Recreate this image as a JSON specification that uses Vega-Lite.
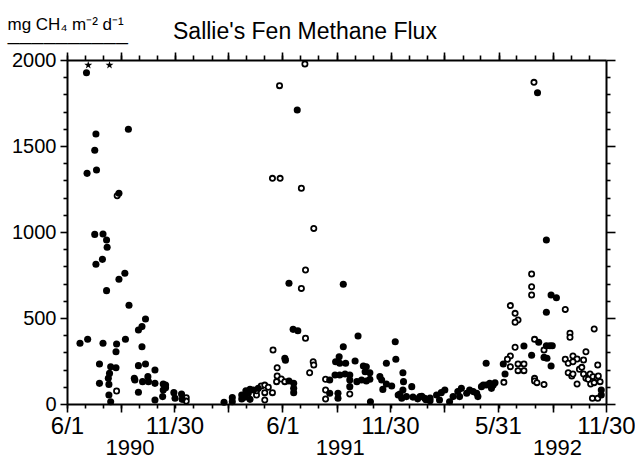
{
  "$schema": "https://vega.github.io/schema/vega-lite/v6.json",
  "width": 539,
  "height": 344,
  "autosize": {"type": "none"},
  "padding": {"left": 67, "top": 60, "right": 29, "bottom": 55},
  "background": "white",
  "title": {"text": "Sallie's Fen Methane Flux", "anchor": "start", "frame": "group", "dx": 106, "offset": -47, "font": "Liberation Sans", "fontSize": 23, "fontWeight": "normal", "color": "black", "baseline": "alphabetic"},
  "config": {
    "view": {"stroke": null},
    "axis": {"domainColor": "black", "tickColor": "black", "labelColor": "black", "titleColor": "black", "labelFont": "Liberation Sans", "labelFontSize": 20, "grid": false, "domainWidth": 2, "tickWidth": 1.6, "labelOverlap": false, "labelFlush": false, "labelBound": false, "title": null}
  },
  "data": {"values": [
    {"date": "1990-07-04", "flux": 1926, "kind": "filled"},
    {"date": "1990-07-07", "flux": 1970, "kind": "offscale"},
    {"date": "1990-08-12", "flux": 1970, "kind": "offscale"},
    {"date": "1990-07-20", "flux": 1570, "kind": "filled"},
    {"date": "1990-07-18", "flux": 1475, "kind": "filled"},
    {"date": "1990-07-05", "flux": 1341, "kind": "filled"},
    {"date": "1990-07-21", "flux": 1360, "kind": "filled"},
    {"date": "1990-09-13", "flux": 1597, "kind": "filled"},
    {"date": "1990-08-25", "flux": 1211, "kind": "open"},
    {"date": "1990-08-28", "flux": 1225, "kind": "filled"},
    {"date": "1990-07-18", "flux": 986, "kind": "filled"},
    {"date": "1990-08-01", "flux": 988, "kind": "filled"},
    {"date": "1990-08-07", "flux": 953, "kind": "filled"},
    {"date": "1990-08-08", "flux": 911, "kind": "filled"},
    {"date": "1990-07-20", "flux": 812, "kind": "filled"},
    {"date": "1990-07-31", "flux": 841, "kind": "filled"},
    {"date": "1990-08-28", "flux": 725, "kind": "filled"},
    {"date": "1990-09-07", "flux": 760, "kind": "filled"},
    {"date": "1990-08-07", "flux": 659, "kind": "filled"},
    {"date": "1990-09-14", "flux": 574, "kind": "filled"},
    {"date": "1990-10-12", "flux": 494, "kind": "filled"},
    {"date": "1990-10-06", "flux": 450, "kind": "filled"},
    {"date": "1990-09-30", "flux": 430, "kind": "filled"},
    {"date": "1990-06-23", "flux": 353, "kind": "filled"},
    {"date": "1990-07-06", "flux": 376, "kind": "filled"},
    {"date": "1990-08-01", "flux": 353, "kind": "filled"},
    {"date": "1990-08-24", "flux": 349, "kind": "filled"},
    {"date": "1990-08-23", "flux": 304, "kind": "filled"},
    {"date": "1990-09-08", "flux": 376, "kind": "filled"},
    {"date": "1990-10-06", "flux": 333, "kind": "filled"},
    {"date": "1990-07-26", "flux": 233, "kind": "filled"},
    {"date": "1990-08-14", "flux": 217, "kind": "filled"},
    {"date": "1990-08-23", "flux": 211, "kind": "filled"},
    {"date": "1990-08-12", "flux": 178, "kind": "filled"},
    {"date": "1990-08-10", "flux": 149, "kind": "filled"},
    {"date": "1990-07-26", "flux": 120, "kind": "filled"},
    {"date": "1990-08-11", "flux": 114, "kind": "filled"},
    {"date": "1990-08-24", "flux": 76, "kind": "open"},
    {"date": "1990-08-11", "flux": 52, "kind": "filled"},
    {"date": "1990-08-14", "flux": 13, "kind": "filled"},
    {"date": "1990-09-30", "flux": 223, "kind": "filled"},
    {"date": "1990-10-12", "flux": 233, "kind": "filled"},
    {"date": "1990-10-28", "flux": 198, "kind": "filled"},
    {"date": "1990-09-23", "flux": 149, "kind": "filled"},
    {"date": "1990-09-24", "flux": 140, "kind": "filled"},
    {"date": "1990-10-07", "flux": 130, "kind": "filled"},
    {"date": "1990-10-16", "flux": 159, "kind": "filled"},
    {"date": "1990-10-17", "flux": 130, "kind": "filled"},
    {"date": "1990-10-28", "flux": 120, "kind": "filled"},
    {"date": "1990-09-30", "flux": 68, "kind": "filled"},
    {"date": "1990-10-28", "flux": 23, "kind": "filled"},
    {"date": "1990-11-11", "flux": 116, "kind": "filled"},
    {"date": "1990-11-15", "flux": 110, "kind": "filled"},
    {"date": "1990-11-11", "flux": 81, "kind": "filled"},
    {"date": "1990-11-15", "flux": 95, "kind": "filled"},
    {"date": "1990-11-10", "flux": 43, "kind": "filled"},
    {"date": "1990-11-29", "flux": 66, "kind": "filled"},
    {"date": "1990-12-01", "flux": 33, "kind": "filled"},
    {"date": "1990-12-12", "flux": 58, "kind": "filled"},
    {"date": "1990-12-13", "flux": 27, "kind": "filled"},
    {"date": "1990-12-20", "flux": 37, "kind": "open"},
    {"date": "1990-12-20", "flux": 17, "kind": "open"},
    {"date": "1991-02-22", "flux": 10, "kind": "filled"},
    {"date": "1991-03-08", "flux": 37, "kind": "filled"},
    {"date": "1991-03-08", "flux": 13, "kind": "filled"},
    {"date": "1991-03-24", "flux": 29, "kind": "filled"},
    {"date": "1991-03-24", "flux": 52, "kind": "filled"},
    {"date": "1991-04-04", "flux": 62, "kind": "filled"},
    {"date": "1991-04-07", "flux": 27, "kind": "filled"},
    {"date": "1991-04-18", "flux": 52, "kind": "open"},
    {"date": "1991-04-21", "flux": 91, "kind": "filled"},
    {"date": "1991-03-31", "flux": 77, "kind": "filled"},
    {"date": "1991-04-07", "flux": 85, "kind": "filled"},
    {"date": "1991-04-13", "flux": 81, "kind": "filled"},
    {"date": "1991-03-29", "flux": 39, "kind": "filled"},
    {"date": "1991-04-26", "flux": 105, "kind": "open"},
    {"date": "1991-05-02", "flux": 110, "kind": "open"},
    {"date": "1991-05-08", "flux": 97, "kind": "open"},
    {"date": "1991-04-18", "flux": 77, "kind": "open"},
    {"date": "1991-05-02", "flux": 66, "kind": "open"},
    {"date": "1991-05-15", "flux": 66, "kind": "open"},
    {"date": "1991-05-02", "flux": 23, "kind": "open"},
    {"date": "1991-05-16", "flux": 314, "kind": "open"},
    {"date": "1991-05-23", "flux": 211, "kind": "open"},
    {"date": "1991-05-23", "flux": 163, "kind": "open"},
    {"date": "1991-05-30", "flux": 145, "kind": "open"},
    {"date": "1991-06-05", "flux": 130, "kind": "open"},
    {"date": "1991-05-22", "flux": 130, "kind": "open"},
    {"date": "1991-06-05", "flux": 266, "kind": "filled"},
    {"date": "1991-06-06", "flux": 255, "kind": "filled"},
    {"date": "1991-06-12", "flux": 134, "kind": "filled"},
    {"date": "1991-06-20", "flux": 120, "kind": "filled"},
    {"date": "1991-06-20", "flux": 91, "kind": "filled"},
    {"date": "1991-06-20", "flux": 66, "kind": "filled"},
    {"date": "1991-06-19", "flux": 434, "kind": "filled"},
    {"date": "1991-06-27", "flux": 426, "kind": "filled"},
    {"date": "1991-07-10", "flux": 382, "kind": "open"},
    {"date": "1991-07-23", "flux": 246, "kind": "open"},
    {"date": "1991-07-24", "flux": 227, "kind": "open"},
    {"date": "1991-07-17", "flux": 182, "kind": "open"},
    {"date": "1991-08-13", "flux": 144, "kind": "open"},
    {"date": "1991-08-13", "flux": 81, "kind": "open"},
    {"date": "1991-08-13", "flux": 29, "kind": "open"},
    {"date": "1991-08-20", "flux": 62, "kind": "filled"},
    {"date": "1991-07-24", "flux": 1021, "kind": "open"},
    {"date": "1991-07-10", "flux": 779, "kind": "open"},
    {"date": "1991-07-03", "flux": 672, "kind": "open"},
    {"date": "1991-06-12", "flux": 702, "kind": "filled"},
    {"date": "1991-09-12", "flux": 696, "kind": "filled"},
    {"date": "1991-07-09", "flux": 1977, "kind": "open"},
    {"date": "1991-05-27", "flux": 1851, "kind": "open"},
    {"date": "1991-06-26", "flux": 1709, "kind": "filled"},
    {"date": "1991-05-15", "flux": 1312, "kind": "open"},
    {"date": "1991-05-28", "flux": 1312, "kind": "open"},
    {"date": "1991-07-03", "flux": 1254, "kind": "open"},
    {"date": "1991-09-12", "flux": 333, "kind": "filled"},
    {"date": "1991-10-07", "flux": 395, "kind": "filled"},
    {"date": "1991-09-05", "flux": 275, "kind": "filled"},
    {"date": "1991-08-30", "flux": 246, "kind": "filled"},
    {"date": "1991-09-06", "flux": 237, "kind": "filled"},
    {"date": "1991-09-16", "flux": 237, "kind": "filled"},
    {"date": "1991-10-02", "flux": 250, "kind": "filled"},
    {"date": "1991-08-29", "flux": 169, "kind": "filled"},
    {"date": "1991-09-06", "flux": 169, "kind": "filled"},
    {"date": "1991-09-15", "flux": 174, "kind": "filled"},
    {"date": "1991-09-23", "flux": 169, "kind": "filled"},
    {"date": "1991-09-23", "flux": 140, "kind": "filled"},
    {"date": "1991-09-23", "flux": 101, "kind": "filled"},
    {"date": "1991-09-23", "flux": 58, "kind": "open"},
    {"date": "1991-08-20", "flux": 140, "kind": "filled"},
    {"date": "1991-09-03", "flux": 62, "kind": "filled"},
    {"date": "1991-09-03", "flux": 33, "kind": "filled"},
    {"date": "1991-10-16", "flux": 221, "kind": "filled"},
    {"date": "1991-10-21", "flux": 217, "kind": "filled"},
    {"date": "1991-10-19", "flux": 188, "kind": "filled"},
    {"date": "1991-10-27", "flux": 182, "kind": "filled"},
    {"date": "1991-10-27", "flux": 144, "kind": "filled"},
    {"date": "1991-10-05", "flux": 130, "kind": "filled"},
    {"date": "1991-10-13", "flux": 140, "kind": "filled"},
    {"date": "1991-10-21", "flux": 134, "kind": "filled"},
    {"date": "1991-10-28", "flux": 13, "kind": "filled"},
    {"date": "1991-11-24", "flux": 237, "kind": "filled"},
    {"date": "1991-12-09", "flux": 362, "kind": "filled"},
    {"date": "1991-12-10", "flux": 260, "kind": "filled"},
    {"date": "1991-11-13", "flux": 159, "kind": "filled"},
    {"date": "1991-11-16", "flux": 140, "kind": "filled"},
    {"date": "1991-11-24", "flux": 116, "kind": "filled"},
    {"date": "1991-12-03", "flux": 105, "kind": "filled"},
    {"date": "1991-11-18", "flux": 85, "kind": "filled"},
    {"date": "1991-12-22", "flux": 182, "kind": "filled"},
    {"date": "1991-12-23", "flux": 130, "kind": "filled"},
    {"date": "1992-01-06", "flux": 101, "kind": "filled"},
    {"date": "1991-12-22", "flux": 81, "kind": "filled"},
    {"date": "1991-12-17", "flux": 58, "kind": "filled"},
    {"date": "1991-12-14", "flux": 52, "kind": "filled"},
    {"date": "1991-12-20", "flux": 33, "kind": "filled"},
    {"date": "1991-12-28", "flux": 43, "kind": "filled"},
    {"date": "1992-01-08", "flux": 40, "kind": "filled"},
    {"date": "1992-01-16", "flux": 30, "kind": "filled"},
    {"date": "1992-01-23", "flux": 45, "kind": "filled"},
    {"date": "1992-01-30", "flux": 25, "kind": "filled"},
    {"date": "1992-02-06", "flux": 35, "kind": "filled"},
    {"date": "1992-01-20", "flux": 43, "kind": "filled"},
    {"date": "1992-01-28", "flux": 33, "kind": "filled"},
    {"date": "1992-02-06", "flux": 19, "kind": "filled"},
    {"date": "1992-02-17", "flux": 52, "kind": "filled"},
    {"date": "1992-02-25", "flux": 66, "kind": "filled"},
    {"date": "1992-03-02", "flux": 81, "kind": "filled"},
    {"date": "1992-02-22", "flux": 23, "kind": "filled"},
    {"date": "1992-03-10", "flux": 13, "kind": "filled"},
    {"date": "1992-03-16", "flux": 43, "kind": "filled"},
    {"date": "1992-03-24", "flux": 72, "kind": "filled"},
    {"date": "1992-03-30", "flux": 91, "kind": "filled"},
    {"date": "1992-03-27", "flux": 43, "kind": "filled"},
    {"date": "1992-04-08", "flux": 62, "kind": "filled"},
    {"date": "1992-04-13", "flux": 81, "kind": "filled"},
    {"date": "1992-04-19", "flux": 72, "kind": "filled"},
    {"date": "1992-04-25", "flux": 62, "kind": "filled"},
    {"date": "1992-04-27", "flux": 43, "kind": "filled"},
    {"date": "1992-05-03", "flux": 101, "kind": "filled"},
    {"date": "1992-05-06", "flux": 110, "kind": "filled"},
    {"date": "1992-05-11", "flux": 110, "kind": "filled"},
    {"date": "1992-05-17", "flux": 120, "kind": "filled"},
    {"date": "1992-05-20", "flux": 91, "kind": "filled"},
    {"date": "1992-05-23", "flux": 110, "kind": "filled"},
    {"date": "1992-05-26", "flux": 124, "kind": "filled"},
    {"date": "1992-05-11", "flux": 237, "kind": "filled"},
    {"date": "1992-06-09", "flux": 233, "kind": "filled"},
    {"date": "1992-06-12", "flux": 174, "kind": "filled"},
    {"date": "1992-06-10", "flux": 126, "kind": "open"},
    {"date": "1992-06-21", "flux": 279, "kind": "open"},
    {"date": "1992-06-16", "flux": 260, "kind": "open"},
    {"date": "1992-06-21", "flux": 217, "kind": "open"},
    {"date": "1992-06-21", "flux": 572, "kind": "open"},
    {"date": "1992-06-29", "flux": 527, "kind": "open"},
    {"date": "1992-07-04", "flux": 488, "kind": "open"},
    {"date": "1992-06-29", "flux": 475, "kind": "open"},
    {"date": "1992-06-29", "flux": 330, "kind": "open"},
    {"date": "1992-07-04", "flux": 233, "kind": "open"},
    {"date": "1992-07-14", "flux": 233, "kind": "open"},
    {"date": "1992-07-04", "flux": 194, "kind": "open"},
    {"date": "1992-07-14", "flux": 194, "kind": "open"},
    {"date": "1992-07-14", "flux": 337, "kind": "filled"},
    {"date": "1992-07-27", "flux": 283, "kind": "filled"},
    {"date": "1992-07-27", "flux": 756, "kind": "open"},
    {"date": "1992-07-27", "flux": 682, "kind": "open"},
    {"date": "1992-07-27", "flux": 634, "kind": "open"},
    {"date": "1992-07-31", "flux": 1870, "kind": "open"},
    {"date": "1992-08-06", "flux": 1810, "kind": "filled"},
    {"date": "1992-08-01", "flux": 376, "kind": "open"},
    {"date": "1992-08-08", "flux": 359, "kind": "filled"},
    {"date": "1992-08-21", "flux": 339, "kind": "filled"},
    {"date": "1992-08-27", "flux": 339, "kind": "filled"},
    {"date": "1992-08-31", "flux": 339, "kind": "filled"},
    {"date": "1992-08-17", "flux": 314, "kind": "open"},
    {"date": "1992-08-17", "flux": 271, "kind": "filled"},
    {"date": "1992-08-22", "flux": 266, "kind": "filled"},
    {"date": "1992-08-29", "flux": 221, "kind": "filled"},
    {"date": "1992-08-29", "flux": 634, "kind": "filled"},
    {"date": "1992-09-07", "flux": 618, "kind": "filled"},
    {"date": "1992-08-21", "flux": 533, "kind": "filled"},
    {"date": "1992-08-21", "flux": 953, "kind": "filled"},
    {"date": "1992-09-22", "flux": 550, "kind": "open"},
    {"date": "1992-09-30", "flux": 411, "kind": "open"},
    {"date": "1992-09-30", "flux": 388, "kind": "open"},
    {"date": "1992-08-01", "flux": 149, "kind": "open"},
    {"date": "1992-08-01", "flux": 134, "kind": "open"},
    {"date": "1992-08-05", "flux": 124, "kind": "open"},
    {"date": "1992-08-17", "flux": 114, "kind": "open"},
    {"date": "1992-09-22", "flux": 260, "kind": "open"},
    {"date": "1992-09-27", "flux": 237, "kind": "open"},
    {"date": "1992-10-05", "flux": 279, "kind": "open"},
    {"date": "1992-10-12", "flux": 262, "kind": "open"},
    {"date": "1992-10-05", "flux": 246, "kind": "open"},
    {"date": "1992-10-27", "flux": 304, "kind": "open"},
    {"date": "1992-10-23", "flux": 256, "kind": "open"},
    {"date": "1992-11-16", "flux": 227, "kind": "open"},
    {"date": "1992-09-27", "flux": 182, "kind": "open"},
    {"date": "1992-10-03", "flux": 163, "kind": "open"},
    {"date": "1992-10-05", "flux": 174, "kind": "open"},
    {"date": "1992-10-12", "flux": 116, "kind": "open"},
    {"date": "1992-10-16", "flux": 202, "kind": "open"},
    {"date": "1992-10-20", "flux": 213, "kind": "open"},
    {"date": "1992-10-23", "flux": 174, "kind": "open"},
    {"date": "1992-10-27", "flux": 149, "kind": "open"},
    {"date": "1992-10-31", "flux": 144, "kind": "open"},
    {"date": "1992-11-03", "flux": 174, "kind": "open"},
    {"date": "1992-11-04", "flux": 116, "kind": "open"},
    {"date": "1992-11-08", "flux": 159, "kind": "open"},
    {"date": "1992-11-10", "flux": 124, "kind": "open"},
    {"date": "1992-11-15", "flux": 153, "kind": "open"},
    {"date": "1992-11-17", "flux": 163, "kind": "open"},
    {"date": "1992-11-20", "flux": 130, "kind": "open"},
    {"date": "1992-11-10", "flux": 436, "kind": "open"},
    {"date": "1992-11-07", "flux": 33, "kind": "open"},
    {"date": "1992-11-16", "flux": 33, "kind": "open"},
    {"date": "1992-11-22", "flux": 81, "kind": "filled"},
    {"date": "1992-11-22", "flux": 52, "kind": "filled"}
  ]},
  "resolve": {"axis": {"x": "independent", "y": "independent"}},
  "layer": [
    {
      "transform": [{"filter": "datum.kind === 'open'"}],
      "mark": {"type": "point", "shape": "circle", "filled": false, "fill": "white", "stroke": "black", "strokeWidth": 1.8, "size": 27, "opacity": 1, "fillOpacity": 1},
      "encoding": {
        "x": {"field": "date", "type": "temporal", "scale": {"type": "utc", "domain": [{"year": 1990, "month": 6, "date": 1, "utc": true}, {"year": 1992, "month": 11, "date": 30, "utc": true}]},
              "axis": {"orient": "bottom", "tickCount": {"interval": "month", "step": 1}, "tickSize": 4, "labels": false, "domain": false}},
        "y": {"field": "flux", "type": "quantitative", "scale": {"domain": [0, 2000], "nice": false},
              "axis": {"orient": "left", "values": [100, 200, 300, 400, 600, 700, 800, 900, 1100, 1200, 1300, 1400, 1600, 1700, 1800, 1900], "tickSize": 4, "labels": false, "domain": false}}
      }
    },
    {
      "transform": [{"filter": "datum.kind === 'filled'"}],
      "mark": {"type": "circle", "color": "black", "size": 50, "opacity": 1},
      "encoding": {
        "x": {"field": "date", "type": "temporal", "scale": {"type": "utc", "domain": [{"year": 1990, "month": 6, "date": 1, "utc": true}, {"year": 1992, "month": 11, "date": 30, "utc": true}]},
              "axis": {"orient": "bottom", "values": [
                {"year": 1990, "month": 6, "date": 1, "utc": true}, {"year": 1990, "month": 9, "date": 1, "utc": true}, {"year": 1990, "month": 11, "date": 30, "utc": true},
                {"year": 1991, "month": 3, "date": 1, "utc": true}, {"year": 1991, "month": 6, "date": 1, "utc": true}, {"year": 1991, "month": 9, "date": 1, "utc": true}, {"year": 1991, "month": 11, "date": 30, "utc": true},
                {"year": 1992, "month": 3, "date": 1, "utc": true}, {"year": 1992, "month": 5, "date": 31, "utc": true}, {"year": 1992, "month": 9, "date": 1, "utc": true}, {"year": 1992, "month": 11, "date": 30, "utc": true}],
                "labelExpr": "indexof(['6/1','11/30','5/31'], utcFormat(datum.value, '%-m/%-d')) >= 0 ? utcFormat(datum.value, '%-m/%-d') : ''",
                "tickSize": 8, "labelPadding": 2, "labelAngle": 0, "labelAlign": "center", "labelFontSize": 24}},
        "y": {"field": "flux", "type": "quantitative", "scale": {"domain": [0, 2000], "nice": false},
              "axis": {"orient": "left", "values": [0, 500, 1000, 1500, 2000], "tickSize": 7, "labelPadding": 4, "format": "d",
                "title": ["mg CH₄  m⁻² d⁻¹", "──────────"], "titleAngle": 0, "titleAlign": "left", "titleBaseline": "alphabetic", "titleX": -60, "titleY": -31, "titleFont": "Liberation Sans", "titleFontSize": 17, "titleFontWeight": "normal", "titleLineHeight": 19}}
      }
    },
    {
      "transform": [{"filter": "datum.kind === 'offscale'"}],
      "mark": {"type": "point", "shape": "M0,-1L0.225,-0.31L0.951,-0.309L0.363,0.118L0.588,0.809L0,0.382L-0.588,0.809L-0.363,0.118L-0.951,-0.309L-0.225,-0.31Z", "filled": true, "color": "black", "size": 70, "opacity": 1},
      "encoding": {
        "x": {"field": "date", "type": "temporal", "scale": {"type": "utc", "domain": [{"year": 1990, "month": 6, "date": 1, "utc": true}, {"year": 1992, "month": 11, "date": 30, "utc": true}]},
              "axis": {"orient": "top", "tickCount": {"interval": "month", "step": 1}, "tickSize": 5, "labels": false, "domain": true}},
        "y": {"field": "flux", "type": "quantitative", "scale": {"domain": [0, 2000], "nice": false},
              "axis": {"orient": "right", "values": [100, 200, 300, 400, 600, 700, 800, 900, 1100, 1200, 1300, 1400, 1600, 1700, 1800, 1900], "tickSize": 4, "labels": false, "domain": true}}
      }
    },
    {
      "transform": [{"filter": "datum.kind === 'none'"}],
      "mark": {"type": "point", "opacity": 0},
      "encoding": {
        "x": {"field": "date", "type": "temporal", "scale": {"type": "utc", "domain": [{"year": 1990, "month": 6, "date": 1, "utc": true}, {"year": 1992, "month": 11, "date": 30, "utc": true}]},
              "axis": {"orient": "top", "values": [
                {"year": 1990, "month": 6, "date": 1, "utc": true}, {"year": 1990, "month": 9, "date": 1, "utc": true}, {"year": 1990, "month": 12, "date": 1, "utc": true},
                {"year": 1991, "month": 3, "date": 1, "utc": true}, {"year": 1991, "month": 6, "date": 1, "utc": true}, {"year": 1991, "month": 9, "date": 1, "utc": true}, {"year": 1991, "month": 12, "date": 1, "utc": true},
                {"year": 1992, "month": 3, "date": 1, "utc": true}, {"year": 1992, "month": 6, "date": 1, "utc": true}, {"year": 1992, "month": 9, "date": 1, "utc": true}], "tickSize": 8, "labels": false, "domain": false}},
        "y": {"field": "flux", "type": "quantitative", "scale": {"domain": [0, 2000], "nice": false},
              "axis": {"orient": "right", "values": [0, 500, 1000, 1500, 2000], "tickSize": 9, "labels": false, "domain": false}}
      }
    },
    {
      "transform": [{"filter": "datum.kind === 'none'"}],
      "mark": {"type": "point", "opacity": 0},
      "encoding": {
        "x": {"field": "date", "type": "temporal", "scale": {"type": "utc", "domain": [{"year": 1990, "month": 6, "date": 1, "utc": true}, {"year": 1992, "month": 11, "date": 30, "utc": true}]},
              "axis": {"orient": "bottom", "values": [{"year": 1990, "month": 9, "date": 15, "utc": true}, {"year": 1991, "month": 9, "date": 6, "utc": true}, {"year": 1992, "month": 9, "date": 8, "utc": true}],
                "labelExpr": "utcFormat(datum.value, '%Y')", "ticks": false, "domain": false, "labelPadding": 33, "labelFontSize": 22, "labelAngle": 0, "labelAlign": "center"}},
        "y": {"field": "flux", "type": "quantitative", "scale": {"domain": [0, 2000], "nice": false}, "axis": null}
      }
    }
  ]
}
